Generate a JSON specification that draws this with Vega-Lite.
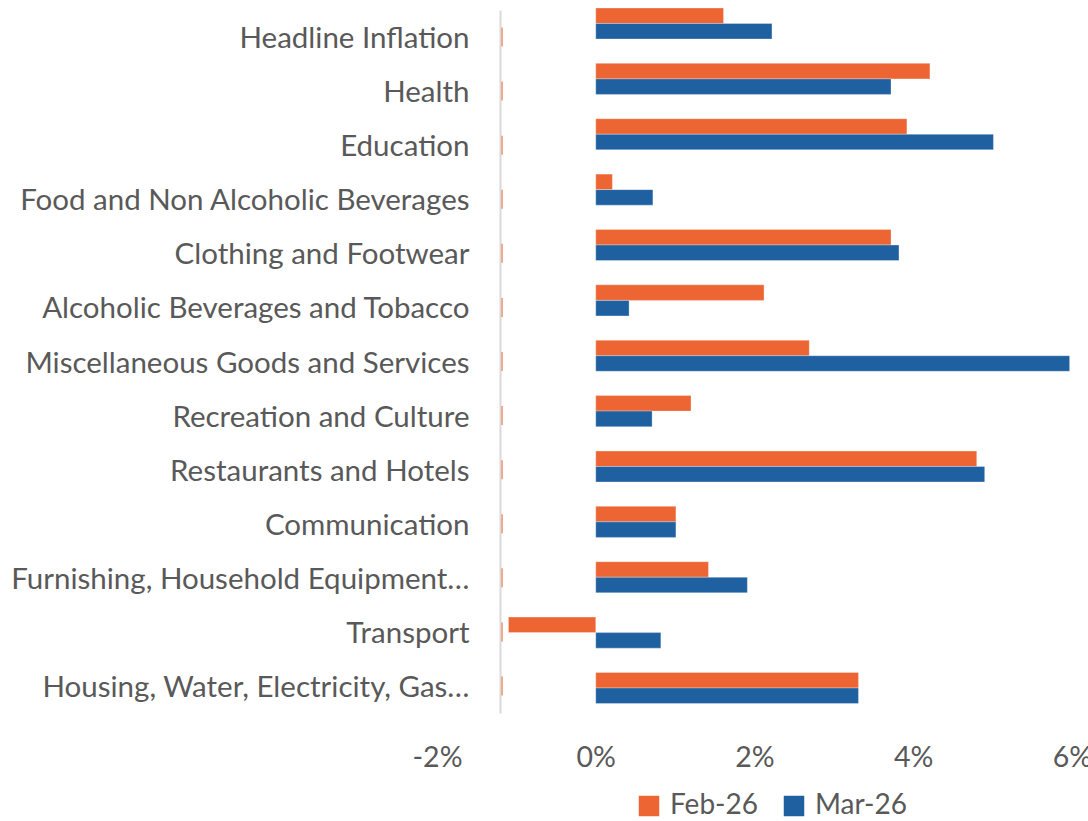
{
  "$schema": "https://vega.github.io/schema/vega-lite/v6.json",
  "autosize": {"type": "none"},
  "width": 635,
  "height": 703,
  "padding": {"left": 437, "top": 10, "right": 16, "bottom": 108},
  "background": "white",
  "config": {
    "view": {"stroke": null},
    "font": "Lato",
    "axis": {"labelColor": "#595959", "labelFont": "Lato", "grid": false},
    "legend": {"labelColor": "#595959", "labelFont": "Lato"}
  },
  "datasets": {
    "cats": [
      {"category": "Headline Inflation"},
      {"category": "Health"},
      {"category": "Education"},
      {"category": "Food and Non Alcoholic Beverages"},
      {"category": "Clothing and Footwear"},
      {"category": "Alcoholic Beverages and Tobacco"},
      {"category": "Miscellaneous Goods and Services"},
      {"category": "Recreation and Culture"},
      {"category": "Restaurants and Hotels"},
      {"category": "Communication"},
      {"category": "Furnishing, Household Equipment…"},
      {"category": "Transport"},
      {"category": "Housing, Water, Electricity, Gas…"}
    ],
    "bars": [
      {"category": "Headline Inflation", "series": "Feb-26", "value": 1.61},
      {"category": "Headline Inflation", "series": "Mar-26", "value": 2.22},
      {"category": "Health", "series": "Feb-26", "value": 4.21},
      {"category": "Health", "series": "Mar-26", "value": 3.72},
      {"category": "Education", "series": "Feb-26", "value": 3.92},
      {"category": "Education", "series": "Mar-26", "value": 5.01},
      {"category": "Food and Non Alcoholic Beverages", "series": "Feb-26", "value": 0.21},
      {"category": "Food and Non Alcoholic Beverages", "series": "Mar-26", "value": 0.72},
      {"category": "Clothing and Footwear", "series": "Feb-26", "value": 3.72},
      {"category": "Clothing and Footwear", "series": "Mar-26", "value": 3.82},
      {"category": "Alcoholic Beverages and Tobacco", "series": "Feb-26", "value": 2.12},
      {"category": "Alcoholic Beverages and Tobacco", "series": "Mar-26", "value": 0.42},
      {"category": "Miscellaneous Goods and Services", "series": "Feb-26", "value": 2.69},
      {"category": "Miscellaneous Goods and Services", "series": "Mar-26", "value": 5.97},
      {"category": "Recreation and Culture", "series": "Feb-26", "value": 1.2},
      {"category": "Recreation and Culture", "series": "Mar-26", "value": 0.71},
      {"category": "Restaurants and Hotels", "series": "Feb-26", "value": 4.8},
      {"category": "Restaurants and Hotels", "series": "Mar-26", "value": 4.9},
      {"category": "Communication", "series": "Feb-26", "value": 1.01},
      {"category": "Communication", "series": "Mar-26", "value": 1.01},
      {"category": "Furnishing, Household Equipment…", "series": "Feb-26", "value": 1.42},
      {"category": "Furnishing, Household Equipment…", "series": "Mar-26", "value": 1.91},
      {"category": "Transport", "series": "Feb-26", "value": -1.1},
      {"category": "Transport", "series": "Mar-26", "value": 0.82},
      {"category": "Housing, Water, Electricity, Gas…", "series": "Feb-26", "value": 3.31},
      {"category": "Housing, Water, Electricity, Gas…", "series": "Mar-26", "value": 3.31}
    ]
  },
  "layer": [
    {
      "data": {"name": "cats"},
      "mark": {"type": "tick", "color": "#ED6533", "thickness": 1.5, "size": 19, "orient": "vertical"},
      "encoding": {
        "x": {
          "datum": -1.18,
          "type": "quantitative",
          "scale": {"domain": [-2, 6], "nice": false, "zero": false},
          "axis": {
            "values": [-2, 0, 2, 4, 6],
            "labelExpr": "datum.value + '%'",
            "labelFlush": false,
            "labelOverlap": false,
            "domain": false,
            "ticks": false,
            "labelFontSize": 28.5,
            "labelPadding": 30,
            "title": null
          }
        },
        "y": {
          "field": "category",
          "type": "nominal",
          "sort": null,
          "scale": {"paddingInner": 0, "paddingOuter": 0},
          "axis": {
            "title": null,
            "offset": -63,
            "domainColor": "#D9D9D9",
            "domainWidth": 2,
            "ticks": false,
            "tickSize": 0,
            "labelPadding": 31,
            "labelFontSize": 29.5,
            "labelOffset": 2,
            "labelLimit": 0
          }
        }
      }
    },
    {
      "data": {"name": "bars"},
      "mark": {"type": "bar", "stroke": "white", "strokeWidth": 0.5, "strokeOpacity": 0.6},
      "encoding": {
        "x": {"field": "value", "type": "quantitative"},
        "y": {
          "field": "category",
          "type": "nominal",
          "sort": null,
          "scale": {"range": [-2, 693.5], "paddingInner": 0.44, "paddingOuter": 0},
          "axis": null
        },
        "yOffset": {
          "field": "series",
          "type": "nominal",
          "sort": ["Feb-26", "Mar-26"],
          "scale": {"paddingInner": 0, "paddingOuter": 0}
        },
        "color": {
          "field": "series",
          "type": "nominal",
          "sort": ["Feb-26", "Mar-26"],
          "scale": {"domain": ["Feb-26", "Mar-26"], "range": ["#ED6533", "#1F60A0"]},
          "legend": {
            "title": null,
            "orient": "none",
            "direction": "horizontal",
            "legendX": 198,
            "legendY": 782,
            "symbolType": "square",
            "symbolSize": 420,
            "symbolStrokeWidth": 0,
            "labelFontSize": 28,
            "labelOffset": 7,
            "labelBaseline": "middle",
            "columnPadding": 22,
            "padding": 0
          }
        }
      }
    }
  ],
  "resolve": {"scale": {"y": "independent"}, "axis": {"y": "independent"}}
}
